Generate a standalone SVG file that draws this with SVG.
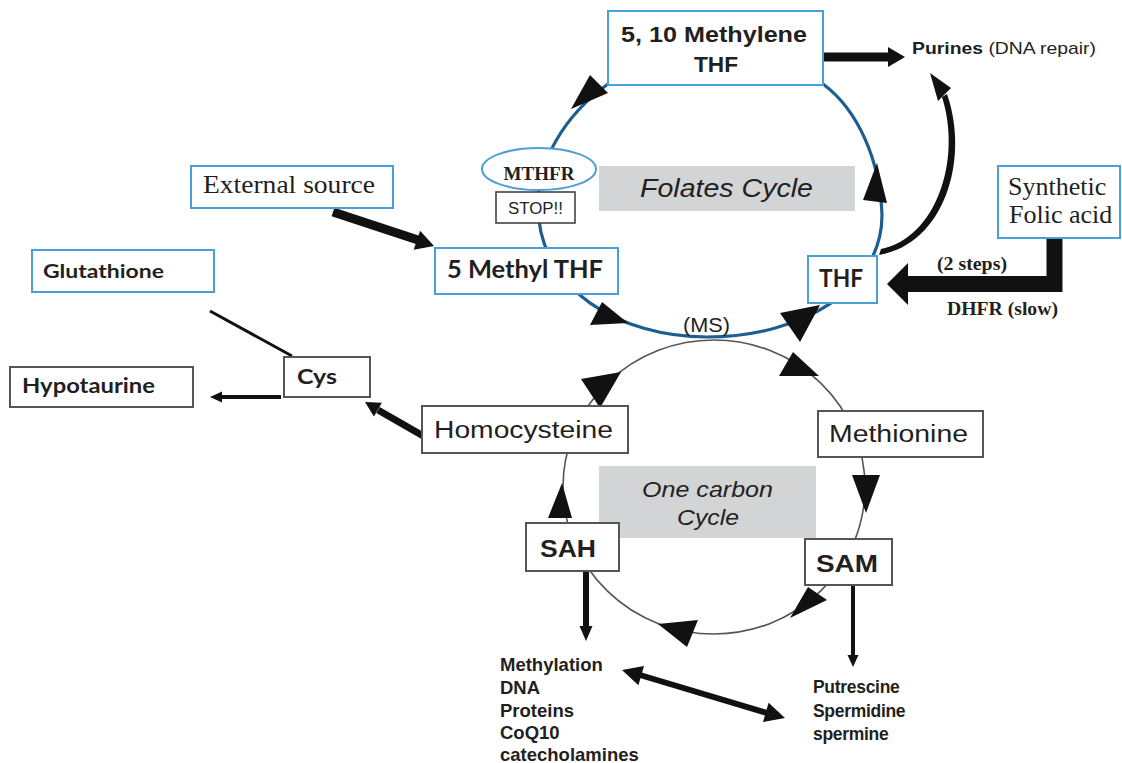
<svg xmlns="http://www.w3.org/2000/svg" width="1122" height="763" viewBox="0 0 1122 763">
<style>
.bg{fill:#ffffff}
.bbox{fill:#ffffff;stroke:#4a9fd8;stroke-width:2}
.gbox{fill:#ffffff;stroke:#555555;stroke-width:2}
.lbl{fill:#d3d4d6;stroke:none}
.sans{font-family:"Liberation Sans",Arial,sans-serif;fill:#231f20}
.cal{font-family:Lato,"Liberation Sans",sans-serif;font-weight:bold;fill:#231f20}
.serif{font-family:"Liberation Serif","Times New Roman",serif;fill:#231f20}
.b{font-weight:bold}
.i{font-style:italic}
.head{fill:#111111}
.thick{stroke:#111111;fill:none}
.folate{fill:none;stroke:#1d5d8f;stroke-width:3.2}
.onec{fill:none;stroke:#555555;stroke-width:1.6}
</style>
<rect class="bg" x="0" y="0" width="1122" height="763"/>

<g id="connectors">
  <!-- folate cycle -->
  <path class="folate" d="M 538 205 C 538 160 565 115 608 84 C 650 62 780 62 823 84 C 858 110 880 160 882 215 C 882 290 800 337 707 337 C 620 337 538 290 538 205 Z"/>
  <!-- one carbon cycle -->
  <ellipse class="onec" cx="714" cy="487" rx="151" ry="147"/>
  <!-- folate cycle arrowheads -->
  <polygon class="head" points="571,109 590,75 608,93"/>
  <polygon class="head" points="877,163 863,200 887,203"/>
  <polygon class="head" points="628,323 602,302 590,325"/>
  <polygon class="head" points="820,305 780,313 800,342"/>
  <!-- one carbon arrowheads -->
  <polygon class="head" points="600,408 581,379 621,372"/>
  <polygon class="head" points="819,376 793,352 779,376"/>
  <polygon class="head" points="866,513 852,475 880,475"/>
  <polygon class="head" points="790,618 808,587 827,600"/>
  <polygon class="head" points="658,624 698,620 687,647"/>
  <polygon class="head" points="562,483 548,518 572,518"/>
  <!-- methylene -> purines -->
  <line class="thick" x1="818" y1="57" x2="890" y2="57" stroke-width="9"/>
  <polygon class="head" points="905,57 888,47 888,67"/>
  <!-- THF -> purines curved, tapered -->
  <path class="head" d="M 879 255 C 944 244 970 160 947 94 L 942 97 C 962 160 936 238 881 249 Z"/>
  <polygon class="head" points="930,73 951,88 938,101"/>
  <!-- external source -> 5 methyl THF -->
  <line class="thick" x1="333" y1="212" x2="418" y2="240" stroke-width="9"/>
  <polygon class="head" points="434,246 413.7,249.8 420.1,230.8"/>
  <!-- synthetic folic acid -> THF -->
  <path class="thick" d="M 1054.5 238 V 284 H 905" stroke-width="16" stroke-linejoin="miter"/>
  <polygon class="head" points="887,284 908,263 908,305"/>
  <!-- homocysteine -> cys -->
  <line class="thick" x1="425" y1="437" x2="378" y2="410" stroke-width="7"/>
  <polygon class="head" points="365,402 381.9,402.7 373.9,416.5"/>
  <!-- cys -> hypotaurine -->
  <line class="thick" x1="281" y1="397" x2="221" y2="397" stroke-width="4"/>
  <polygon class="head" points="210,397 222,391.5 222,402.5"/>
  <!-- glutathione - cys -->
  <line class="thick" x1="210" y1="311" x2="292" y2="356" stroke-width="3"/>
  <!-- SAH down -->
  <line class="thick" x1="586" y1="571" x2="586" y2="628" stroke-width="6"/>
  <polygon class="head" points="586,641 579.5,626 592.5,626"/>
  <!-- SAM down -->
  <line class="thick" x1="853" y1="585" x2="853" y2="657" stroke-width="4"/>
  <polygon class="head" points="853,667 847.5,655 858.5,655"/>
  <!-- double arrow -->
  <line class="thick" x1="640" y1="675" x2="767" y2="713" stroke-width="6"/>
  <polygon class="head" points="622,670 638.4,685.3 644,666.1"/>
  <polygon class="head" points="785,718 763,721.9 768.6,702.7"/>
</g>

<g id="label-folates">
  <rect class="lbl" x="599" y="166" width="256" height="45"/>
  <text class="sans i" x="640" y="197" font-size="25" textLength="173" lengthAdjust="spacingAndGlyphs" fill="#333333">Folates Cycle</text>
</g>
<g id="label-onecarbon">
  <rect class="lbl" x="599" y="466" width="217" height="72"/>
  <text class="sans i" x="642" y="497" font-size="22" textLength="131" lengthAdjust="spacingAndGlyphs">One carbon</text>
  <text class="sans i" x="677" y="525" font-size="22" textLength="62" lengthAdjust="spacingAndGlyphs">Cycle</text>
</g>
<g id="label-ms">
  <text class="sans" x="683" y="332" font-size="21" textLength="47" lengthAdjust="spacingAndGlyphs">(MS)</text>
</g>

<g id="node-methylene">
  <rect class="bbox" x="608" y="11" width="215" height="74"/>
  <text class="sans b" x="714" y="42" font-size="22" text-anchor="middle" textLength="186" lengthAdjust="spacingAndGlyphs">5, 10 Methylene</text>
  <text class="sans b" x="716" y="72" font-size="22" text-anchor="middle" textLength="44" lengthAdjust="spacingAndGlyphs">THF</text>
</g>
<g id="node-purines">
  <text class="sans" x="912" y="54" font-size="17" textLength="184" lengthAdjust="spacingAndGlyphs"><tspan font-weight="bold">Purines</tspan> (DNA repair)</text>
</g>
<g id="node-mthfr">
  <ellipse cx="539" cy="169" rx="57" ry="21" fill="#ffffff" stroke="#4a9fd8" stroke-width="2"/>
  <text class="serif b" x="539" y="180" font-size="19" text-anchor="middle" textLength="71" lengthAdjust="spacingAndGlyphs" fill="#333333">MTHFR</text>
</g>
<g id="node-stop">
  <rect x="496" y="192" width="79" height="31" fill="#ffffff" stroke="#444444" stroke-width="1.6"/>
  <text class="sans" x="508" y="214" font-size="16" textLength="55" lengthAdjust="spacingAndGlyphs" fill="#333333">STOP!!</text>
</g>
<g id="node-external">
  <rect class="bbox" x="191" y="166" width="202" height="42"/>
  <text class="serif" x="203" y="193" font-size="26" textLength="172" lengthAdjust="spacingAndGlyphs" fill="#333333">External source</text>
</g>
<g id="node-5methylthf">
  <rect class="bbox" x="435" y="248" width="183" height="46"/>
  <text class="cal" x="447" y="278" font-size="25" textLength="156" lengthAdjust="spacingAndGlyphs">5 Methyl THF</text>
</g>
<g id="node-thf">
  <rect class="bbox" x="808" y="256" width="69" height="47"/>
  <text class="cal" x="819" y="287" font-size="25" textLength="44" lengthAdjust="spacingAndGlyphs">THF</text>
</g>
<g id="node-synthetic">
  <rect class="bbox" x="998" y="166" width="122" height="72"/>
  <text class="serif" x="1008" y="195" font-size="26" fill="#333333">Synthetic</text>
  <text class="serif" x="1009" y="223" font-size="26" fill="#333333">Folic acid</text>
</g>
<g id="label-2steps">
  <text class="serif b" x="937" y="270" font-size="19" textLength="70" lengthAdjust="spacingAndGlyphs">(2 steps)</text>
</g>
<g id="label-dhfr">
  <text class="serif b" x="947" y="315" font-size="19" textLength="111" lengthAdjust="spacingAndGlyphs">DHFR (slow)</text>
</g>
<g id="node-glutathione">
  <rect class="bbox" x="32" y="250" width="182" height="42"/>
  <text class="cal" x="43" y="278" font-size="19" textLength="121" lengthAdjust="spacingAndGlyphs">Glutathione</text>
</g>
<g id="node-hypotaurine">
  <rect class="gbox" x="10" y="367" width="183" height="40"/>
  <text class="cal" x="22" y="393" font-size="21" textLength="133" lengthAdjust="spacingAndGlyphs">Hypotaurine</text>
</g>
<g id="node-cys">
  <rect class="gbox" x="284" y="357" width="86" height="40"/>
  <text class="cal" x="297" y="384" font-size="21" textLength="40" lengthAdjust="spacingAndGlyphs">Cys</text>
</g>
<g id="node-homocysteine">
  <rect class="gbox" x="422" y="406" width="206" height="47"/>
  <text class="sans" x="434" y="438" font-size="23" textLength="179" lengthAdjust="spacingAndGlyphs">Homocysteine</text>
</g>
<g id="node-methionine">
  <rect class="gbox" x="818" y="411" width="165" height="46"/>
  <text class="sans" x="829" y="442" font-size="23" textLength="139" lengthAdjust="spacingAndGlyphs">Methionine</text>
</g>
<g id="node-sah">
  <rect class="gbox" x="526" y="523" width="93" height="48"/>
  <text class="sans b" x="540" y="557" font-size="23" textLength="56" lengthAdjust="spacingAndGlyphs">SAH</text>
</g>
<g id="node-sam">
  <rect class="gbox" x="805" y="539" width="87" height="46"/>
  <text class="sans b" x="816" y="572" font-size="23" textLength="62" lengthAdjust="spacingAndGlyphs">SAM</text>
</g>
<g id="node-methylation">
  <text class="sans b" font-size="18.5">
    <tspan x="500" y="671">Methylation</tspan>
    <tspan x="500" y="694">DNA</tspan>
    <tspan x="500" y="717">Proteins</tspan>
    <tspan x="500" y="739">CoQ10</tspan>
    <tspan x="500" y="761">catecholamines</tspan>
  </text>
</g>
<g id="node-polyamines">
  <text class="sans b" font-size="17.5" letter-spacing="-0.3">
    <tspan x="813" y="693">Putrescine</tspan>
    <tspan x="813" y="717">Spermidine</tspan>
    <tspan x="813" y="740">spermine</tspan>
  </text>
</g>
</svg>
